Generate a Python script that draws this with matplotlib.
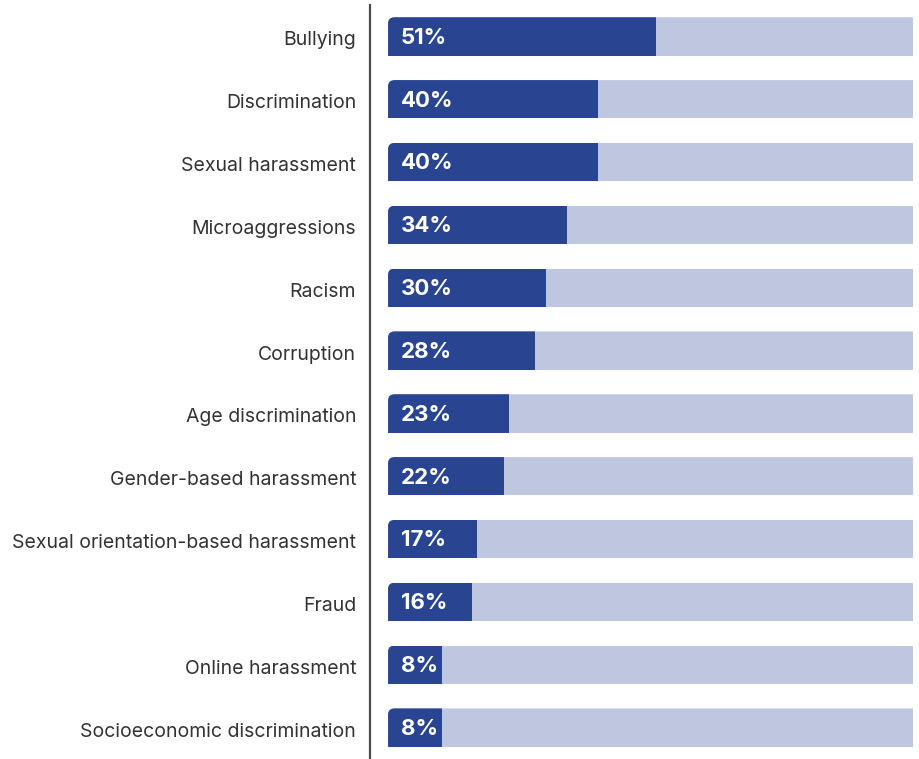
import matplotlib.pyplot as plt
import matplotlib.transforms as mtransforms
from matplotlib.patches import FancyBboxPatch

categories = ['Bullying', 'Discrimination', 'Sexual harassment', 'Microaggressions',
              'Racism', 'Corruption', 'Age discrimination', 'Gender-based harassment',
              'Sexual orientation-based harassment', 'Fraud', 'Online harassment',
              'Socioeconomic discrimination']
values = [51, 40, 40, 34, 30, 28, 23, 22, 17, 16, 8, 8]
full = 100

dark = '#294592'
light = '#bfc7e0'
min_width = 10.3  # small bars are drawn wide enough to hold their label
bar_h = 0.61

plt.rcParams['font.family'] = ['Inter', 'DejaVu Sans']

fig = plt.figure(figsize=(9.19, 7.59), dpi=100)
ax = fig.add_axes([370 / 919, 0, 543 / 919, 754 / 759])

y = list(range(len(categories)))
ax.set_xlim(-3.44, 100)
ax.set_ylim(len(y) - 0.5, -0.5)

back = ax.barh(y, [full] * len(y), height=bar_h, color=light)
bars = ax.barh(y, [max(v, min_width) for v in values], height=bar_h, color=dark)


def round_top_left(patch):
    # clip with a rounded box that runs past the bar on the right and bottom,
    # so only the top-left corner gets rounded
    clip = FancyBboxPatch((patch.get_x(), patch.get_y()), 200, bar_h + 0.5,
                          boxstyle='round,pad=0,rounding_size=1.3',
                          mutation_aspect=0.075, transform=ax.transData,
                          facecolor='none', edgecolor='none')
    patch.set_clip_path(clip)


for b in list(back) + list(bars):
    round_top_left(b)

for yi, v in zip(y, values):
    ax.text(2.4, yi + 0.02, f'{v}%', color='white', fontsize=16, fontweight='bold',
            va='center', ha='left')

ax.set_yticks(y)
ax.set_yticklabels(categories, fontsize=14, color='#333333')
ax.tick_params(axis='y', length=0, pad=10)
shift = mtransforms.ScaledTranslation(0, -2 / 100, fig.dpi_scale_trans)
for lbl in ax.get_yticklabels():
    lbl.set_transform(lbl.get_transform() + shift)
ax.set_xticks([])

for s in ['top', 'right', 'bottom']:
    ax.spines[s].set_visible(False)
ax.spines['left'].set_color('#4a4a4a')
ax.spines['left'].set_linewidth(1.6)

fig.savefig('out.png', dpi=100)
